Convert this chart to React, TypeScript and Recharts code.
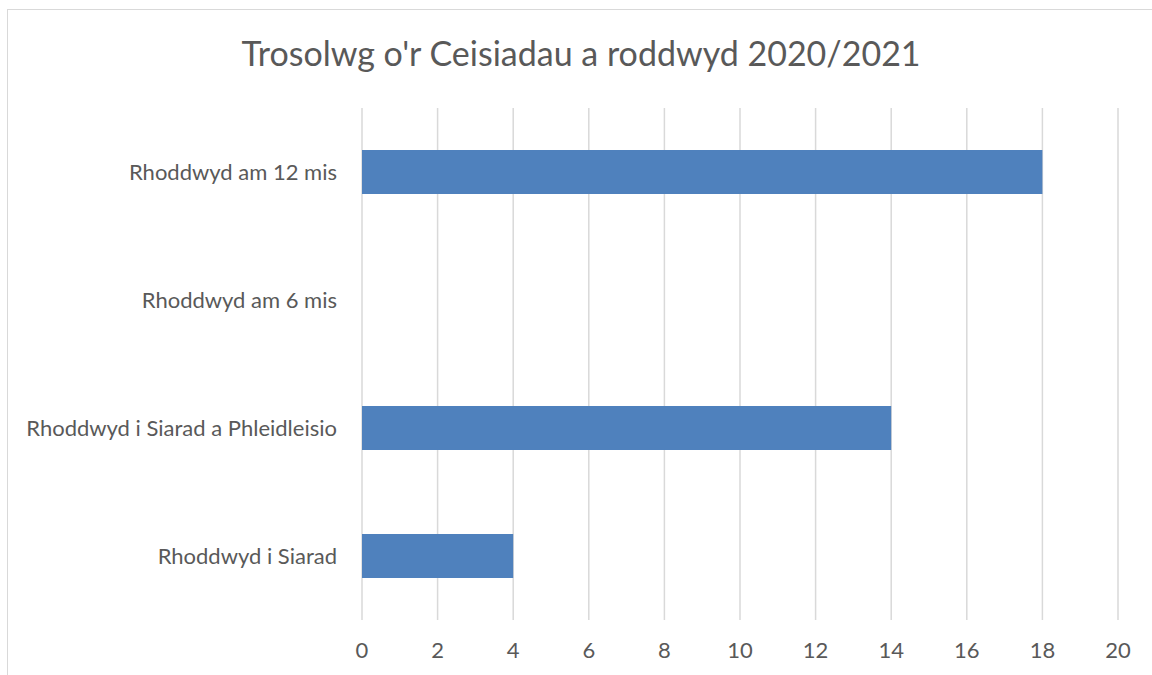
import React from 'react';
import { BarChart, Bar, XAxis, YAxis, CartesianGrid } from 'recharts';

const categories = [
  'Rhoddwyd am 12 mis',
  'Rhoddwyd am 6 mis',
  'Rhoddwyd i Siarad a Phleidleisio',
  'Rhoddwyd i Siarad',
];
const values = [18, 0, 14, 4];
const xTicks = [0, 2, 4, 6, 8, 10, 12, 14, 16, 18, 20];

const data = categories.map((name, i) => ({ name, value: values[i] }));

const FONT = 'Lato, "Open Sans", sans-serif';

export default function App() {
  return (
    <div style={{ position: 'absolute', left: 0, top: 0, width: 1152, height: 675, overflow: 'hidden', background: '#fff', fontFamily: FONT }}>
      <div style={{ position: 'absolute', left: 7, top: 9, width: 1200, height: 720, border: '1px solid #d9d9d9', boxSizing: 'border-box' }} />
      <div style={{ position: 'absolute', left: 0, width: 1162, top: 32, textAlign: 'center', fontSize: 34, color: '#595959' }}>
        Trosolwg o'r Ceisiadau a roddwyd 2020/2021
      </div>
      <div style={{ position: 'absolute', left: 0, top: 0 }}>
        <BarChart
          width={1152}
          height={675}
          data={data}
          layout="vertical"
          margin={{ top: 108, right: 34, bottom: 0, left: 0 }}
        >
          <CartesianGrid horizontal={false} stroke="#d9d9d9" strokeWidth={1.5} />
          <XAxis
            type="number"
            domain={[0, 20]}
            ticks={xTicks}
            height={55}
            axisLine={false}
            tickLine={false}
            tickMargin={16}
            tick={{ fill: '#595959', fontSize: 22, fontFamily: FONT }}
          />
          <YAxis
            type="category"
            dataKey="name"
            width={362}
            axisLine={false}
            tickLine={false}
            tickSize={0}
            tickMargin={25}
            tick={{ fill: '#595959', fontSize: 22, fontFamily: FONT }}
          />
          <Bar dataKey="value" fill="#4f81bd" barSize={44} isAnimationActive={false} />
        </BarChart>
      </div>
    </div>
  );
}
